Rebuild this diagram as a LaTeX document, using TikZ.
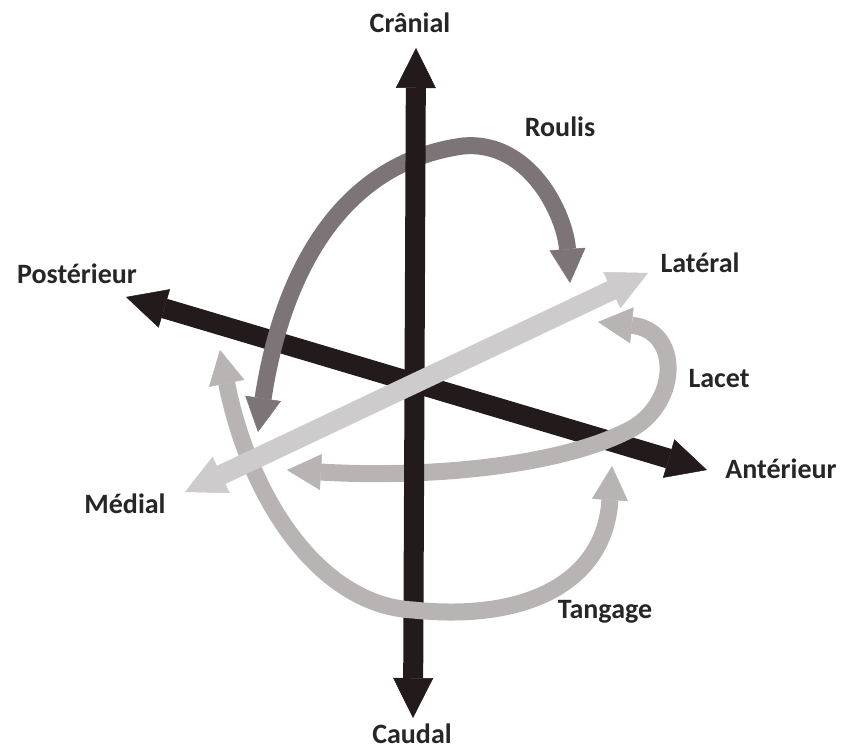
\documentclass[tikz,border=0pt]{standalone}
\usepackage{fontspec}
\setmainfont{Carlito}
\usetikzlibrary{arrows.meta}
\definecolor{cblack}{HTML}{221A1B}
\definecolor{croll}{HTML}{7C7476}
\definecolor{carc}{HTML}{B8B4B4}
\definecolor{clight}{HTML}{CDCBCB}
\tikzset{
  every picture/.style={x=1pt, y=-1pt},
  axis/.style={draw=#1, line width=20pt, {Triangle[length=40pt, width=40pt, line width=0.5pt, fill=#1]}-{Triangle[length=40pt, width=40pt, line width=0.5pt, fill=#1]}},
  axis/.default=cblack,
  twist/.style={draw=#1, line width=17pt, {Triangle[length=34pt, width=36pt, line width=0.5pt, fill=#1]}-{Triangle[length=34pt, width=36pt, line width=0.5pt, fill=#1]}},
  twist/.default=carc,
  lbl/.style={font=\bfseries\fontsize{28}{30}\selectfont, text=black!85, anchor=base, inner sep=0pt},
}
\begin{document}
\begin{tikzpicture}
  \path[use as bounding box, fill=white] (0,0) rectangle (843,749);

  % ends of the axes
  \coordinate (cr) at (416,48);
  \coordinate (ca) at (413,718);
  \coordinate (po) at (126,297);
  \coordinate (an) at (707,470);
  \coordinate (me) at (185,492);
  \coordinate (la) at (648,273);

  % ends of the turns
  \coordinate (ro1) at (258,432);
  \coordinate (ro2) at (570,283);
  \coordinate (ta1) at (220,350);
  \coordinate (ta2) at (612,466);
  \coordinate (le1) at (287,470);
  \coordinate (le2) at (598,322);

  % back to front
  \draw[axis] (po) -- (an);
  \draw[twist=croll] (ro1) .. controls (278,300) and (325,165) .. (463,146)
                           .. controls (530,140) and (565,215) .. (ro2);
  \draw[twist] (le1) .. controls (420,478) and (560,468) .. (633,428)
                     .. controls (680,400) and (680,330) .. (le2);
  \draw[axis] (cr) -- (ca);
  \draw[twist] (ta1) .. controls (250,500) and (320,605) .. (413,610)
                     .. controls (530,622) and (605,580) .. (ta2);
  \draw[axis=clight] (me) -- (la);

  % labels
  \node[lbl] (tcr) at (410,33)  {Crânial};
  \node[lbl] (tca) at (412,743) {Caudal};
  \node[lbl] (tpo) at (77,283)  {Postérieur};
  \node[lbl] (tan) at (781,478) {Antérieur};
  \node[lbl] (tme) at (125,513) {Médial};
  \node[lbl] (tla) at (700,272) {Latéral};
  \node[lbl] (tro) at (560,137) {Roulis};
  \node[lbl] (tle) at (719,387) {Lacet};
  \node[lbl] (tta) at (605,618) {Tangage};
\end{tikzpicture}
\end{document}
